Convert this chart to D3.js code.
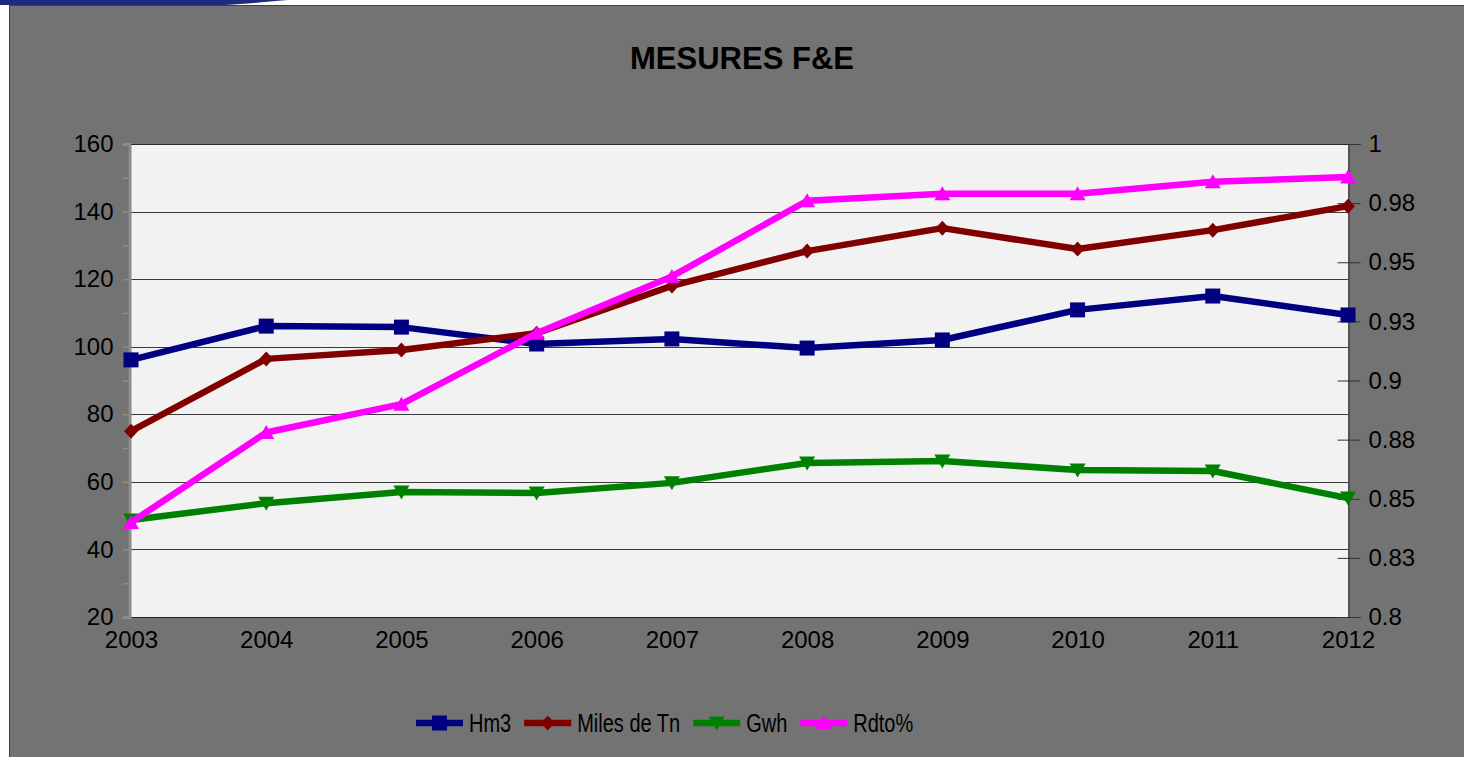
<!DOCTYPE html>
<html>
<head>
<meta charset="utf-8">
<script src="https://cdn.jsdelivr.net/npm/d3@7"></script>
<style>
  body { margin: 0; background: #ffffff; }
  svg { display: block; font-family: "Liberation Sans", Arial, sans-serif; }
</style>
</head>
<body>
<div class="chart"></div>
<script>
// datos
const years = ["2003", "2004", "2005", "2006", "2007", "2008", "2009", "2010", "2011", "2012"];
const hm3 = [96.1, 106.1, 105.8, 100.8, 102.3, 99.6, 102.0, 110.9, 115.0, 109.4];
const milesTn = [75.0, 96.4, 99.0, 104.0, 118.0, 128.3, 135.1, 128.9, 134.5, 141.6];
const gwh = [48.7, 53.7, 57.0, 56.7, 59.7, 65.6, 66.2, 63.5, 63.2, 55.2];
const rdto = [0.840, 0.878, 0.890, 0.920, 0.944, 0.976, 0.979, 0.979, 0.984, 0.986];

const leftTicks = [20, 40, 60, 80, 100, 120, 140, 160];
const leftMinor = [30, 50, 70, 90, 110, 130, 150];
const rightTicks = [0.8, 0.825, 0.85, 0.875, 0.9, 0.925, 0.95, 0.975, 1];
const rightTickLabels = ["0.8", "0.83", "0.85", "0.88", "0.9", "0.93", "0.95", "0.98", "1"];

const seriesNames = ["Hm3", "Miles de Tn", "Gwh", "Rdto%"];
const seriesColors = ["#000080", "#800000", "#008000", "#ff00ff"];

var width = 1464;
var height = 757;
// limites del area de trazado
var pLeft = 131, pRight = 1348, pTop = 144, pBottom = 617;

var svg = d3.select("div.chart")
    .append("svg")
    .attr("width", width)
    .attr("height", height);

// fondo gris y la franja azul de arriba
svg.append("rect")
    .attr("x", 9.5).attr("y", 5.5)
    .attr("width", width).attr("height", height)
    .attr("fill", "#737373")
    .attr("stroke", "#404040")
    .attr("stroke-width", 1);

svg.append("path")
    .attr("d", "M0,0 L288,0 C262,2 244,4 226,5 L0,5 Z")
    .attr("fill", "#1f2a7e");

svg.append("text")
    .attr("x", 742).attr("y", 69)
    .attr("text-anchor", "middle")
    .style("font-size", "31px")
    .style("font-weight", "bold")
    .attr("fill", "#000")
    .text("MESURES F&E");

var x = d3.scalePoint().domain(years).range([pLeft, pRight]);
var yL = d3.scaleLinear().domain([20, 160]).range([pBottom, pTop]);
var yR = d3.scaleLinear().domain([0.8, 1]).range([pBottom, pTop]);

// area del grafico
svg.append("rect")
    .attr("x", pLeft).attr("y", pTop)
    .attr("width", pRight - pLeft).attr("height", pBottom - pTop)
    .attr("fill", "#f2f2f2");

// lineas de cuadricula
svg.append("g")
    .selectAll("line")
    .data(leftTicks.slice(1))
    .enter()
    .append("line")
    .attr("x1", pLeft).attr("x2", pRight)
    .attr("y1", d => Math.round(yL(d)) + 0.5)
    .attr("y2", d => Math.round(yL(d)) + 0.5)
    .attr("stroke", "#3a3a3a")
    .attr("stroke-width", 1);

svg.append("line")
    .attr("x1", pLeft).attr("x2", pRight)
    .attr("y1", pBottom + 0.5).attr("y2", pBottom + 0.5)
    .attr("stroke", "#2a2a2a");

// eje izquierdo (gris claro)
var axisL = svg.append("g")
    .attr("transform", `translate(${pLeft - 1.5},0)`)
    .call(d3.axisLeft(yL)
        .tickValues(leftTicks.concat(leftMinor))
        .tickSize(7)
        .tickPadding(9)
        .tickFormat(d => leftTicks.includes(d) ? d : ""));
axisL.select(".domain").attr("stroke", "#8c8c8c").attr("stroke-width", 3);
axisL.selectAll(".tick line").attr("stroke", "#8c8c8c").attr("stroke-width", 1.5);
axisL.selectAll(".tick text")
    .attr("fill", "#000")
    .style("font-size", "24px")
    .style("font-family", "Liberation Sans, Arial, sans-serif");

// eje derecho
var axisR = svg.append("g")
    .attr("transform", `translate(${pRight + 0.5},0)`)
    .call(d3.axisRight(yR)
        .tickValues(rightTicks)
        .tickSize(12)
        .tickPadding(8)
        .tickFormat((d, i) => rightTickLabels[i]));
axisR.select(".domain").attr("stroke", "#333").attr("stroke-width", 1);
axisR.selectAll(".tick line").attr("stroke", "#333").attr("x1", -11);
axisR.selectAll(".tick text")
    .attr("fill", "#000")
    .style("font-size", "24px")
    .style("font-family", "Liberation Sans, Arial, sans-serif");

// eje x
var axisX = svg.append("g")
    .attr("transform", `translate(0,${pBottom})`)
    .call(d3.axisBottom(x).tickSize(0).tickPadding(14));
axisX.select(".domain").remove();
axisX.selectAll(".tick text")
    .attr("fill", "#000")
    .style("font-size", "24px")
    .style("font-family", "Liberation Sans, Arial, sans-serif");

svg.append("line")
    .attr("x1", pLeft).attr("x2", pRight)
    .attr("y1", pTop + 0.5).attr("y2", pTop + 0.5)
    .attr("stroke", "#2a2a2a");

// marcadores
function markerPath(i) {
    if (i == 0) return "M-7.5,-7.5 L7.5,-7.5 L7.5,7.5 L-7.5,7.5 Z";
    if (i == 1) return "M0,-7.5 L7,0 L0,7.5 L-7,0 Z";
    if (i == 2) return "M-8,-6.5 L8,-6.5 L0,7.5 Z";
    return "M0,-7.5 L8,6.5 L-8,6.5 Z";
}

var series = [
    {name: seriesNames[0], values: hm3, y: yL},
    {name: seriesNames[1], values: milesTn, y: yL},
    {name: seriesNames[2], values: gwh, y: yL},
    {name: seriesNames[3], values: rdto, y: yR}
];

series.forEach((s, i) => {
    var line = d3.line()
        .x((d, j) => x(years[j]))
        .y(d => s.y(d));

    svg.append("path")
        .datum(s.values)
        .attr("d", line)
        .attr("fill", "none")
        .attr("stroke", seriesColors[i])
        .attr("stroke-width", 6.5)
        .attr("stroke-linejoin", "round");

    svg.append("g")
        .selectAll("path")
        .data(s.values)
        .enter()
        .append("path")
        .attr("d", markerPath(i))
        .attr("transform", (d, j) => `translate(${x(years[j])},${s.y(d)})`)
        .attr("fill", seriesColors[i]);
});

// leyenda
var legend = svg.append("g").attr("class", "legend");
var lx = 416, ly = 723;
seriesNames.forEach((name, i) => {
    legend.append("line")
        .attr("x1", lx).attr("x2", lx + 47)
        .attr("y1", ly).attr("y2", ly)
        .attr("stroke", seriesColors[i])
        .attr("stroke-width", 6.5);
    legend.append("path")
        .attr("d", markerPath(i))
        .attr("transform", `translate(${lx + 23.5},${ly})`)
        .attr("fill", seriesColors[i]);
    var t = legend.append("text")
        .attr("transform", `translate(${lx + 53},${ly + 9}) scale(0.8,1)`)
        .style("font-size", "25px")
        .attr("fill", "#000")
        .text(name);
    lx = lx + 53 + t.node().getComputedTextLength() * 0.8 + 13;
});
</script>
</body>
</html>
